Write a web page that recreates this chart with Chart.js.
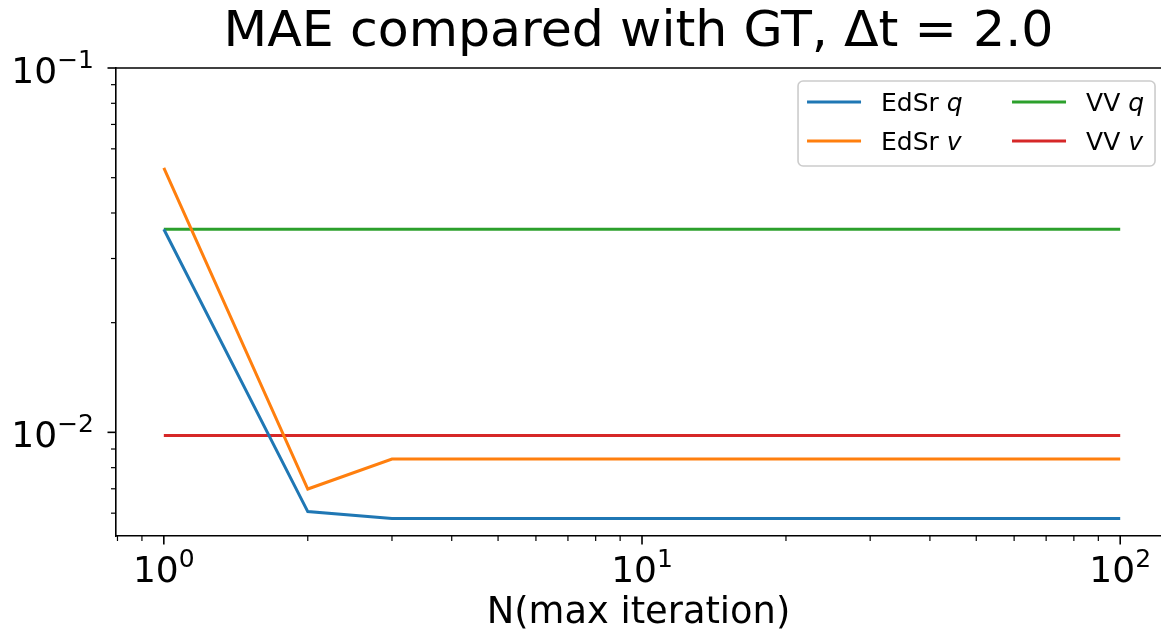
<!DOCTYPE html>
<html lang="en">
<head>
  <meta charset="UTF-8" />
  <title>MAE compared with GT</title>
  <script src="https://cdn.jsdelivr.net/npm/chart.js"></script>
  <style>
    html, body { margin: 0; padding: 0; background: #fff; }
    #wrap { width: 1161px; height: 633px; }
  </style>
</head>
<body>
  <div id="wrap"><canvas id="maeChart" width="1161" height="633"></canvas></div>
  <script>
    // values
    const iterations = [1, 2, 3, 5, 10, 20, 50, 100];
    const edsrQ = [0.0361, 0.00606, 0.00580, 0.00580, 0.00580, 0.00580, 0.00580, 0.00580];
    const edsrV = [0.0532, 0.00699, 0.00845, 0.00845, 0.00845, 0.00845, 0.00845, 0.00845];
    const vvQ   = [0.0361, 0.0361, 0.0361, 0.0361, 0.0361, 0.0361, 0.0361, 0.0361];
    const vvV   = [0.00981, 0.00981, 0.00981, 0.00981, 0.00981, 0.00981, 0.00981, 0.00981];

    const seriesLabels = [['EdSr ', 'q'], ['EdSr ', 'v'], ['VV ', 'q'], ['VV ', 'v']];
    const seriesColors = ['#1f77b4', '#ff7f0e', '#2ca02c', '#d62728'];

    // the original axes run to 10^2.1 but the picture is cut at 10^2.085
    const xRange = [Math.pow(10, -0.1), Math.pow(10, 2.0853)];
    const xAxesEnd = Math.pow(10, 2.1);
    const yRange = [0.005194, 0.1];
    const xMajor = [1, 10, 100];
    const yMajor = [0.01, 0.1];

    const FONT = "'DejaVu Sans', sans-serif";

    function toXY(ys) {
      return ys.map((y, i) => ({ x: iterations[i], y: y }));
    }

    function logTicks(min, max) {
      const out = [];
      for (let e = Math.floor(Math.log10(min)) - 1; e <= Math.ceil(Math.log10(max)); e++) {
        for (let k = 1; k <= 9; k++) {
          const v = k * Math.pow(10, e);
          if (v >= min * 0.9999 && v <= max * 1.0001) out.push({ v: v, major: k === 1 });
        }
      }
      return out;
    }

    // draws 10^exp like matplotlib mathtext
    function drawPow(ctx, exp, x, y, align) {
      const sup = exp < 0 ? '\u2212' + (-exp) : String(exp);
      ctx.font = '36px ' + FONT;
      const w1 = ctx.measureText('10').width;
      ctx.font = '25px ' + FONT;
      const w2 = ctx.measureText(sup).width;
      const x0 = align === 'center' ? x - (w1 + w2) / 2 : x - (w1 + w2);
      ctx.textAlign = 'left';
      ctx.textBaseline = 'alphabetic';
      ctx.fillStyle = '#000';
      ctx.font = '36px ' + FONT;
      ctx.fillText('10', x0, y);
      ctx.font = '25px ' + FONT;
      ctx.fillText(sup, x0 + w1, y - 15);
    }

    const axesDecor = {
      id: 'axesDecor',
      afterDraw(chart) {
        const ctx = chart.ctx;
        const ca = chart.chartArea;
        const xs = chart.scales.x, ys = chart.scales.y;
        const axRight = xs.getPixelForValue(xAxesEnd);
        ctx.save();

        // top spine
        ctx.strokeStyle = '#000';
        ctx.lineWidth = 1.6;
        ctx.beginPath();
        ctx.moveTo(ca.left - 0.8, ca.top);
        ctx.lineTo(axRight, ca.top);
        ctx.stroke();

        // x ticks
        logTicks(xs.min, xs.max).forEach(t => {
          const px = xs.getPixelForValue(t.v);
          ctx.lineWidth = t.major ? 1.6 : 1.2;
          ctx.beginPath();
          ctx.moveTo(px, ca.bottom);
          ctx.lineTo(px, ca.bottom + (t.major ? 8.5 : 5));
          ctx.stroke();
        });
        // y ticks
        logTicks(ys.min, ys.max).forEach(t => {
          const py = ys.getPixelForValue(t.v);
          ctx.lineWidth = t.major ? 1.6 : 1.2;
          ctx.beginPath();
          ctx.moveTo(ca.left, py);
          ctx.lineTo(ca.left - (t.major ? 8.5 : 5), py);
          ctx.stroke();
        });

        // tick labels
        xMajor.forEach(v => {
          drawPow(ctx, Math.round(Math.log10(v)), xs.getPixelForValue(v), ca.bottom + 46, 'center');
        });
        yMajor.forEach(v => {
          drawPow(ctx, Math.round(Math.log10(v)), ca.left - 22, ys.getPixelForValue(v) + 14.5, 'right');
        });

        // legend, two columns, upper right
        const lw = 357, lh = 85;
        const lx = axRight - 13 - lw, ly = ca.top + 13;
        ctx.beginPath();
        ctx.roundRect(lx, ly, lw, lh, 5);
        ctx.fillStyle = 'rgba(255,255,255,0.8)';
        ctx.fill();
        ctx.strokeStyle = '#cccccc';
        ctx.lineWidth = 1.6;
        ctx.stroke();

        const colX = [9, 214];
        const rowY = [21, 60];
        seriesLabels.forEach((lab, i) => {
          const col = Math.floor(i / 2), row = i % 2;
          const x0 = lx + colX[col], y0 = ly + rowY[row];
          ctx.strokeStyle = seriesColors[i];
          ctx.lineWidth = 3;
          ctx.beginPath();
          ctx.moveTo(x0, y0);
          ctx.lineTo(x0 + 54, y0);
          ctx.stroke();
          ctx.fillStyle = '#000';
          ctx.textAlign = 'left';
          ctx.textBaseline = 'alphabetic';
          ctx.font = '25px ' + FONT;
          ctx.fillText(lab[0], x0 + 74, y0 + 9);
          const w = ctx.measureText(lab[0]).width;
          ctx.font = 'italic 25px ' + FONT;
          ctx.fillText(lab[1], x0 + 74 + w, y0 + 9);
        });

        ctx.restore();
      }
    };

    new Chart(document.getElementById('maeChart'), {
      type: 'line',
      data: {
        datasets: [
          { label: 'EdSr q', data: toXY(edsrQ), borderColor: seriesColors[0] },
          { label: 'EdSr v', data: toXY(edsrV), borderColor: seriesColors[1] },
          { label: 'VV q', data: toXY(vvQ), borderColor: seriesColors[2] },
          { label: 'VV v', data: toXY(vvV), borderColor: seriesColors[3] }
        ]
      },
      options: {
        responsive: false,
        animation: false,
        layout: { padding: { left: 116, right: 0, top: 0, bottom: 0 } },
        elements: {
          line: { borderWidth: 3, tension: 0, fill: false, borderCapStyle: 'butt' },
          point: { radius: 0, hoverRadius: 0 }
        },
        plugins: {
          legend: { display: false },
          tooltip: { enabled: false },
          title: {
            display: true,
            text: 'MAE compared with GT, \u0394t = 2.0',
            color: '#000',
            font: { family: FONT, size: 50.6, weight: 'normal', lineHeight: 1 },
            padding: { top: 8, bottom: 9.4 }
          }
        },
        scales: {
          x: {
            type: 'logarithmic',
            min: xRange[0],
            max: xRange[1],
            ticks: { display: false },
            grid: { display: false, drawTicks: false },
            border: { display: true, color: '#000', width: 1.6 },
            title: {
              display: true,
              text: 'N(max iteration)',
              color: '#000',
              font: { family: FONT, size: 36.8, lineHeight: 1 },
              padding: { top: 59.2, bottom: 1 }
            }
          },
          y: {
            type: 'logarithmic',
            min: yRange[0],
            max: yRange[1],
            ticks: { display: false },
            grid: { display: false, drawTicks: false },
            border: { display: true, color: '#000', width: 1.6 }
          }
        }
      },
      plugins: [axesDecor]
    });
  </script>
</body>
</html>
